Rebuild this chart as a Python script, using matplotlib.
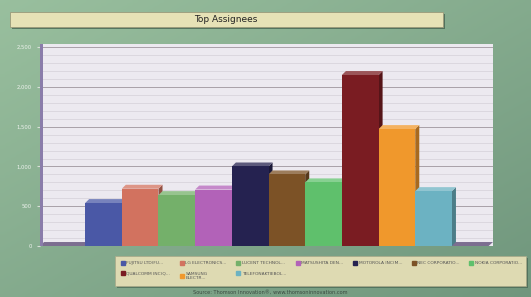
import numpy as np
import matplotlib.pyplot as plt
from matplotlib.patches import Polygon, Rectangle
from matplotlib.lines import Line2D

assignees = [
    "FUJITSU LTD(FU...", "LG ELECTRONICS...", "LUCENT TECHNOL...",
    "MATSUSHITA DEN...", "MOTOROLA INC(M...", "NEC CORPORATIO...",
    "NOKIA CORPORATIO...", "QUALCOMM INC(Q...", "SAMSUNG\nELECTR...",
    "TELEFONAKTIEBOL...",
]
patents = [540, 720, 640, 710, 1000, 900, 800, 2150, 1470, 690]
colors = ["#4a58a6", "#d2725f", "#74b06a", "#b262b8", "#252250",
          "#7c5226", "#5fc06c", "#7a1c22", "#f0982c", "#6cb2c2"]
yticks = [0, 500, 1000, 1500, 2000, 2500]


def shade(c, f):
    c = np.array(plt.matplotlib.colors.to_rgb(c))
    if f < 1:
        return tuple(c * f)
    return tuple(c + (1 - c) * (f - 1))


W, H = 531, 297
fig = plt.figure(figsize=(W / 100, H / 100), dpi=100)

# green gradient background, lighter top left
bg = fig.add_axes([0, 0, 1, 1])
yy, xx = np.mgrid[0:1:100j, 0:1:100j]
g = 0.5 * xx + 0.5 * (1 - yy)
top = np.array([0.60, 0.75, 0.62])
bot = np.array([0.44, 0.59, 0.49])
img = top[None, None, :] * (1 - g[..., None]) + bot[None, None, :] * g[..., None]
bg.imshow(img, extent=[0, 1, 0, 1], aspect="auto", origin="lower")
bg.set_xlim(0, 1)
bg.set_ylim(0, 1)
bg.axis("off")

# title box
bg.add_patch(Rectangle((12 / W, 1 - 29 / H), 433 / W, 15 / H, fc="#3c5a48", ec="none", alpha=0.7))
bg.add_patch(Rectangle((10 / W, 1 - 27 / H), 433 / W, 15 / H, fc="#e6e2b6", ec="#9a9a7a", lw=0.6))
bg.text(226 / W, 1 - 19.5 / H, "Top Assignees", ha="center", va="center", fontsize=6.5, color="#222222")

# legend box
bg.add_patch(Rectangle((117 / W, 1 - 288 / H), 411 / W, 30 / H, fc="#3c5a48", ec="none", alpha=0.6))
bg.add_patch(Rectangle((115 / W, 1 - 286 / H), 411 / W, 30 / H, fc="#dedab2", ec="#a8a888", lw=0.5))
bg.text(270 / W, 1 - 292 / H, "Source: Thomson Innovation\u00ae, www.thomsoninnovation.com",
        ha="center", va="center", fontsize=3.6, color="#3a4a40")

# plot area
x0, x1, y0, y1 = 40, 493, 44, 246
ax = fig.add_axes([x0 / W, 1 - y1 / H, (x1 - x0) / W, (y1 - y0) / H])
ax.set_facecolor("#ece9f0")
ax.set_xlim(-1.73, 10.62)
ax.set_ylim(0, 2540)
for v in range(100, 2540, 100):
    major = v % 500 == 0
    ax.axhline(v, color="#a8a0a8" if major else "#d4d0d8", lw=0.7 if major else 0.5, zorder=1)

dx, dy = 0.11, 50
for i, (v, c) in enumerate(zip(patents, colors)):
    l, r = i - 0.5, i + 0.5
    ax.add_patch(Polygon([(r, 0), (r + dx, dy), (r + dx, v + dy), (r, v)],
                         fc=shade(c, 0.7), ec="none", zorder=3))
    ax.add_patch(Polygon([(l, v), (l + dx, v + dy), (r + dx, v + dy), (r, v)],
                         fc=shade(c, 1.25), ec="none", zorder=3))
    ax.bar(i, v, width=1, color=c, zorder=4)

# floor and left wall
ax.add_patch(Polygon([(-1.73, 0), (-1.73 + dx, dy), (10.62, dy), (10.5, 0)],
                     fc="#7c6e90", ec="none", zorder=2))
ax.add_patch(Rectangle((-1.73, 0), 0.09, 2540, fc="#8a7caa", ec="none", zorder=2))

ax.set_xticks([])
ax.set_yticks(yticks)
ax.set_yticklabels([f"{t:,}" for t in yticks], fontsize=3.8, color="#eef3ee")
ax.tick_params(axis="y", length=2, color="#d8e0d8", pad=4)
for s in ax.spines.values():
    s.set_visible(False)

# legend fills column by column, reorder so it reads row by row
order = [0, 7, 1, 8, 2, 9, 3, 4, 5, 6]
handles = [Line2D([], [], marker="s", ls="none", color=colors[k], markersize=2.5) for k in order]
fig.legend(handles, [assignees[k] for k in order], ncol=7, loc="upper left",
           bbox_to_anchor=(117 / W, 1 - 257 / H), frameon=False,
           fontsize=3.2, handletextpad=0.4, columnspacing=2.2,
           labelspacing=1.5, handlelength=0.8, labelcolor="#555555")

fig.savefig("out.png", dpi=100)
